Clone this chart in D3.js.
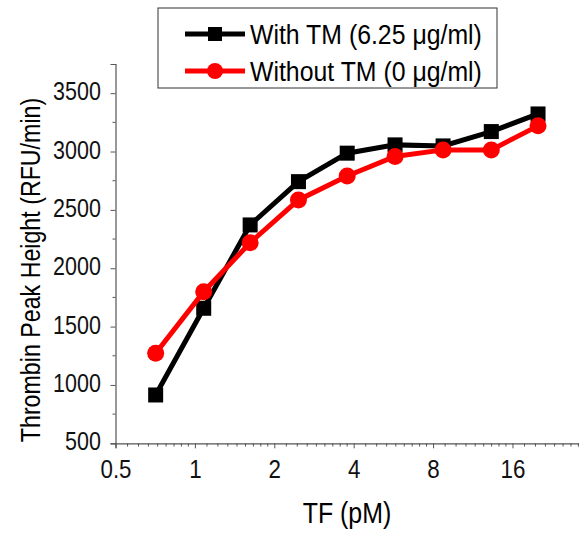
<!DOCTYPE html>
<html>
<head>
<meta charset="utf-8">
<script src="https://cdn.jsdelivr.net/npm/d3@7"></script>
<style>
  body { margin: 0; background: #fff; }
  svg { display: block; font-family: Arial, "Liberation Sans", sans-serif; }
</style>
</head>
<body>
<svg id="chart" width="579" height="534"></svg>
<script>
'use strict';
// TF concentrations (pM)
const tf = [0.71, 1.08, 1.62, 2.47, 3.78, 5.74, 8.73, 13.3, 20];
// peak heights (RFU/min)
const withTM = [914, 1657, 2371, 2742, 2986, 3057, 3048, 3171, 3322];
const withoutTM = [1271, 1799, 2219, 2585, 2791, 2957, 3014, 3014, 3220];

const xTicks = [0.5, 1, 2, 4, 8, 16];
const yTicks = [500, 1000, 1500, 2000, 2500, 3000, 3500];
const seriesNames = ["With TM (6.25 \u03bcg/ml)", "Without TM (0 \u03bcg/ml)"];

const svg = d3.select("#chart");

const x = d3.scaleLog().base(2).domain([0.5, 28.6]).range([115.5, 579]);
const y = d3.scaleLinear().domain([500, 3750]).range([443.3, 64]);

const axisColor = "#555";
// Origin text is a bit taller than wide
const squeeze = 0.86;

// minor ticks on the log axis: linear steps inside each doubling
const xMinor = [];
xTicks.forEach(t => {
  for (let k = 1; k <= 8; k++) {
    const v = t + t * k / 9;
    if (v <= x.domain()[1]) xMinor.push(v);
  }
});
const yMinor = d3.range(750, 3750, 500);

// y axis
const yAxis = svg.append("g")
  .attr("transform", "translate(115.5,0)")
  .call(d3.axisLeft(y).tickValues(yTicks).tickSize(5).tickPadding(12).tickFormat(d3.format("d")));
yAxis.select(".domain").attr("stroke", axisColor).attr("stroke-width", 1.2);
yAxis.selectAll(".tick line").attr("stroke", axisColor);
yAxis.selectAll(".tick text")
  .attr("font-size", 25).attr("fill", "#111")
  .attr("dy", "0.26em")
  .attr("transform", `scale(${squeeze},1)`);
svg.append("g").selectAll("line").data(yMinor).join("line")
  .attr("x1", 112.5).attr("x2", 115.5)
  .attr("y1", d => y(d)).attr("y2", d => y(d))
  .attr("stroke", axisColor);

// x axis
const xAxis = svg.append("g")
  .attr("transform", "translate(0,443.3)")
  .call(d3.axisBottom(x).tickValues(xTicks).tickSize(5).tickPadding(11).tickFormat(d => d));
xAxis.select(".domain").attr("stroke", axisColor).attr("stroke-width", 1.2);
xAxis.selectAll(".tick line").attr("stroke", axisColor);
xAxis.selectAll(".tick text")
  .attr("font-size", 26).attr("fill", "#111")
  .attr("transform", `scale(${squeeze},1)`);
svg.append("g").selectAll("line").data(xMinor).join("line")
  .attr("x1", d => x(d)).attr("x2", d => x(d))
  .attr("y1", 443.3).attr("y2", 446.5)
  .attr("stroke", axisColor);

// axis titles
svg.append("text")
  .attr("transform", `translate(347,523) scale(${squeeze},1)`)
  .attr("text-anchor", "middle")
  .attr("font-size", 29)
  .text("TF (pM)");
svg.append("text")
  .attr("transform", `translate(40,270) rotate(-90) scale(${squeeze},1)`)
  .attr("text-anchor", "middle")
  .attr("font-size", 27)
  .text("Thrombin Peak Height (RFU/min)");

// series
const line = d3.line().x(d => x(d[0])).y(d => y(d[1]));

const drawSeries = (vals, color, shape) => {
  const pts = tf.map((t, i) => [t, vals[i]]);
  svg.append("path")
    .datum(pts)
    .attr("d", line)
    .attr("fill", "none")
    .attr("stroke", color)
    .attr("stroke-width", 5);
  const g = svg.append("g");
  if (shape === "square") {
    g.selectAll("rect").data(pts).join("rect")
      .attr("x", d => x(d[0]) - 7.5).attr("y", d => y(d[1]) - 7.5)
      .attr("width", 15).attr("height", 15)
      .attr("fill", color);
  } else {
    g.selectAll("circle").data(pts).join("circle")
      .attr("cx", d => x(d[0])).attr("cy", d => y(d[1]))
      .attr("r", 8.5)
      .attr("fill", color);
  }
};

drawSeries(withTM, "#000", "square");
drawSeries(withoutTM, "#f00", "circle");

// legend
const legend = svg.append("g");
legend.append("rect")
  .attr("x", 158).attr("y", 8)
  .attr("width", 339).attr("height", 80)
  .attr("fill", "#fff")
  .attr("stroke", "#333").attr("stroke-width", 1);

const legendItems = [
  { name: seriesNames[0], color: "#000", shape: "square", yPos: 34 },
  { name: seriesNames[1], color: "#f00", shape: "circle", yPos: 71 }
];
legendItems.forEach(it => {
  legend.append("line")
    .attr("x1", 185).attr("x2", 245)
    .attr("y1", it.yPos).attr("y2", it.yPos)
    .attr("stroke", it.color).attr("stroke-width", 5);
  if (it.shape === "square") {
    legend.append("rect")
      .attr("x", 208).attr("y", it.yPos - 7)
      .attr("width", 14).attr("height", 14)
      .attr("fill", it.color);
  } else {
    legend.append("circle")
      .attr("cx", 215).attr("cy", it.yPos).attr("r", 8)
      .attr("fill", it.color);
  }
  legend.append("text")
    .attr("transform", `translate(250,${it.yPos + 9.5}) scale(0.92,1)`)
    .attr("font-size", 27)
    .text(it.name);
});
</script>
</body>
</html>
